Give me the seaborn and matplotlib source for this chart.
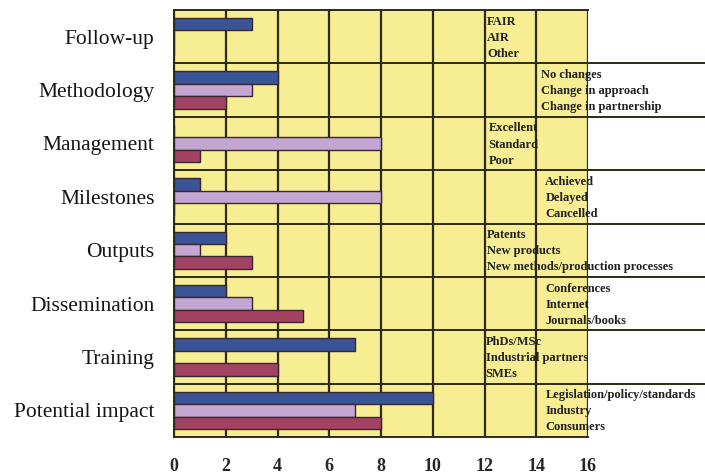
import matplotlib
matplotlib.use("Agg")
import matplotlib.pyplot as plt
import seaborn as sns
import pandas as pd

# Evaluation criteria (top to bottom) and the number of projects per answer
categories = ["Follow-up", "Methodology", "Management", "Milestones",
              "Outputs", "Dissemination", "Training", "Potential impact"]
options = ["First answer", "Second answer", "Third answer"]
first_answer = [3, 4, 0, 1, 2, 2, 7, 10]
second_answer = [0, 3, 8, 8, 1, 3, 0, 7]
third_answer = [0, 2, 1, 0, 3, 5, 4, 8]

# Answer labels written beside each group
answer_labels = [
    ["FAIR", "AIR", "Other"],
    ["No changes", "Change in approach", "Change in partnership"],
    ["Excellent", "Standard", "Poor"],
    ["Achieved", "Delayed", "Cancelled"],
    ["Patents", "New products", "New methods/production processes"],
    ["Conferences", "Internet", "Journals/books"],
    ["PhDs/MSc", "Industrial partners", "SMEs"],
    ["Legislation/policy/standards", "Industry", "Consumers"],
]
label_x = [12.1, 14.2, 12.15, 14.35, 12.1, 14.35, 12.05, 14.35]
x_ticks = [0, 2, 4, 6, 8, 10, 12, 14, 16]

colors = ["#2b4fa6", "#c79edb", "#b2335f"]
grid_col = "#2e2a12"
plot_bg = "#f7ed93"

rows = []
for i, cat in enumerate(categories):
    for opt, vals in zip(options, [first_answer, second_answer, third_answer]):
        rows.append({"category": cat, "option": opt, "count": vals[i]})
df = pd.DataFrame(rows)

sns.set_style("white")
serif = ["Liberation Serif", "DejaVu Serif"]
plt.rcParams["font.family"] = serif

fig = plt.figure(figsize=(7.05, 4.74), dpi=100)
ax = fig.add_axes([174 / 705, 1 - 437 / 474, (588 - 174) / 705, (437 - 10) / 474])
ax.set_facecolor(plot_bg)

sns.barplot(data=df, x="count", y="category", hue="option", order=categories,
            hue_order=options, palette=colors, orient="h", width=0.7,
            edgecolor="#3a2630", linewidth=1.0, legend=False, ax=ax)

ax.set_xlim(0, 16)
ax.set_ylim(len(categories) - 0.5, -0.5)
ax.set_xticks(x_ticks)
ax.set_xticklabels([str(t) for t in x_ticks], fontsize=13, fontweight="bold")
ax.tick_params(axis="x", length=5, width=1.2, color=grid_col, pad=10)
ax.xaxis.grid(True, color=grid_col, linewidth=1.6)
ax.set_axisbelow(True)

ax.set_yticks(range(len(categories)))
ax.set_yticklabels(categories, fontsize=15.5, color="#151515")
ax.set_yticks([b - 0.5 for b in range(len(categories) + 1)], minor=True)
ax.tick_params(axis="y", which="major", length=0, pad=14)
ax.tick_params(axis="y", which="minor", length=6, width=1.2, color=grid_col)
ax.set_xlabel("")
ax.set_ylabel("")

for side in ["left", "bottom", "top"]:
    ax.spines[side].set_color(grid_col)
    ax.spines[side].set_linewidth(1.4)
ax.spines["right"].set_visible(False)

# Group separators run on through the label column to the figure edge
ext = (705 - 174) / (588 - 174)
ytf = ax.get_yaxis_transform()
for b in range(1, len(categories)):
    ax.plot([0, ext], [b - 0.5, b - 0.5], transform=ytf, color=grid_col,
            linewidth=1.4, clip_on=False, zorder=3)

for i, (lines, lx) in enumerate(zip(answer_labels, label_x)):
    ax.text(lx, i + 0.02, "\n".join(lines), fontsize=9, fontweight="bold",
            va="center", ha="left", linespacing=1.45, color="#222222",
            clip_on=False, zorder=4)

fig.savefig("out.png", dpi=100)
